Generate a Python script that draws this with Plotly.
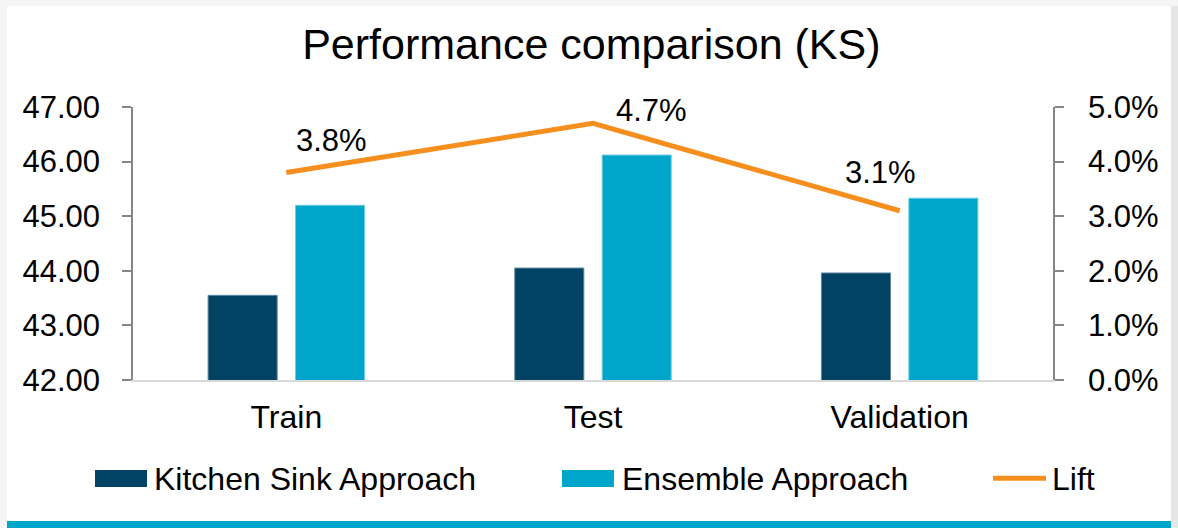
import plotly.graph_objects as go

categories = ["Train", "Test", "Validation"]
kitchen_sink = [43.55, 44.05, 43.96]
ensemble = [45.20, 46.12, 45.33]
lift = [0.038, 0.047, 0.031]
series_names = ["Kitchen Sink Approach", "Ensemble Approach", "Lift"]
title_text = "Performance comparison (KS)"

W, H = 1178, 528
L, R, T, B = 133, 1053, 107, 380  # plot area in pixels

def px(x):
    return (x - L) / (R - L)

def py(y):
    return (B - y) / (B - T)

DARK = "#024262"
LIGHT = "#00A6CA"
ORANGE = "#F78F1E"
FONT = "Liberation Sans, Arial, sans-serif"
TICK_SIZE = 32
YTICK_SIZE = 31
LABEL_SIZE = 31

fig = go.Figure()
fig.add_trace(go.Bar(x=categories, y=kitchen_sink, name=series_names[0],
                     marker=dict(color=DARK, line=dict(color="#5A86A0", width=1)),
                     showlegend=False))
fig.add_trace(go.Bar(x=categories, y=ensemble, name=series_names[1],
                     marker=dict(color=LIGHT, line=dict(color="#6CCDE3", width=1)),
                     showlegend=False))
fig.add_trace(go.Scatter(x=categories, y=lift, name=series_names[2], yaxis="y2",
                         mode="lines", line=dict(color=ORANGE, width=5),
                         showlegend=False))

# data labels
label_shifts = [(45, 32), (58, 13), (-19, 38)]
annotations = []
for c, v, (dx, dy) in zip(categories, lift, label_shifts):
    annotations.append(dict(x=c, y=v, xref="x", yref="y2", text=f"{v*100:.1f}%",
                            showarrow=False, xshift=dx, yshift=dy,
                            font=dict(size=LABEL_SIZE, color="black", family=FONT)))

# custom legend
legend_y = 478.5
for name, x0 in zip(series_names, [152, 620, 1050]):
    annotations.append(dict(x=px(x0), y=py(legend_y), xref="paper", yref="paper", text=name,
                            showarrow=False, xanchor="left", yanchor="middle",
                            font=dict(size=TICK_SIZE, color="black", family=FONT)))

shapes = [
    # page panel
    dict(type="rect", xref="paper", yref="paper", x0=px(7), x1=px(1171), y0=py(521), y1=py(6),
         fillcolor="white", line=dict(width=0), layer="below"),
    dict(type="rect", xref="paper", yref="paper", x0=px(1171), x1=px(1180), y0=py(530), y1=py(6),
         fillcolor="#E6E6E6", line=dict(width=0), layer="below"),
    dict(type="rect", xref="paper", yref="paper", x0=px(7), x1=px(1171), y0=py(530), y1=py(521),
         fillcolor=LIGHT, line=dict(width=0), layer="below"),
    # legend swatches
    dict(type="rect", xref="paper", yref="paper", x0=px(95), x1=px(147), y0=py(487), y1=py(470),
         fillcolor=DARK, line=dict(width=0)),
    dict(type="rect", xref="paper", yref="paper", x0=px(562), x1=px(614), y0=py(487), y1=py(470),
         fillcolor=LIGHT, line=dict(width=0)),
    dict(type="line", xref="paper", yref="paper", x0=px(993), x1=px(1046), y0=py(478.3), y1=py(478.3),
         line=dict(color=ORANGE, width=5)),
]

fig.update_layout(
    width=W, height=H,
    margin=dict(l=L, r=W - R, t=T, b=H - B, pad=0),
    paper_bgcolor="#F5F5F5",
    plot_bgcolor="white",
    barmode="group", bargap=0.43, bargroupgap=0.21,
    showlegend=False,
    title=dict(text=title_text, x=0.502, xref="container", xanchor="center",
               y=1 - 44 / H, yref="container", yanchor="middle",
               font=dict(size=43, color="black", family=FONT)),
    font=dict(family=FONT, color="black", size=TICK_SIZE),
    xaxis=dict(showline=True, linecolor="#D9D9D9", linewidth=2, ticks="",
               showgrid=False, zeroline=False, ticklabelstandoff=8,
               tickfont=dict(size=TICK_SIZE, color="black", family=FONT)),
    yaxis=dict(range=[42, 47], dtick=1, tickformat=".2f", showline=True,
               linecolor="#868686", linewidth=1.5, ticks="outside", ticklen=9,
               tickcolor="#868686", tickwidth=1.5, showgrid=False, zeroline=False,
               ticklabelstandoff=16, tickfont=dict(size=YTICK_SIZE, color="black", family=FONT)),
    yaxis2=dict(range=[0, 0.05], dtick=0.01, tickformat=".1%", overlaying="y", side="right",
                showline=True, linecolor="#868686", linewidth=1.5, ticks="outside", ticklen=9,
                tickcolor="#868686", tickwidth=1.5, showgrid=False, zeroline=False,
                ticklabelstandoff=18, tickfont=dict(size=YTICK_SIZE, color="black", family=FONT)),
    annotations=annotations,
    shapes=shapes,
)

fig.write_html("out.html", config={"displayModeBar": False},
               post_script="document.body.style.margin='0px';document.body.style.overflow='hidden';")
